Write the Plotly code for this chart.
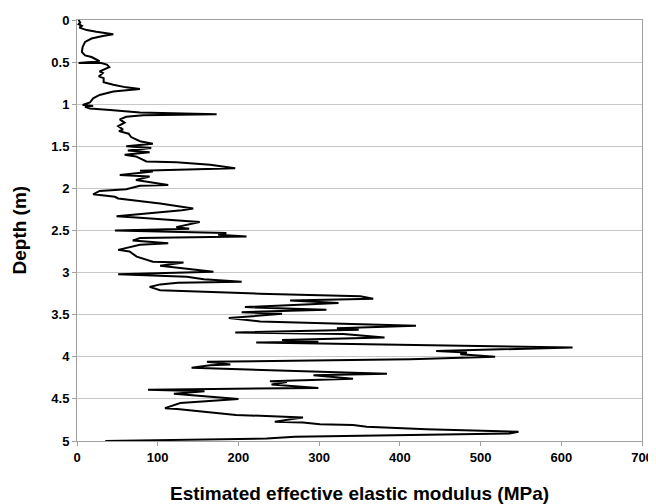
import plotly.graph_objects as go

# Digitized profile: estimated effective elastic modulus (MPa) vs depth (m)
depth_m = [
    0.00, 0.03, 0.05, 0.07, 0.09, 0.12, 0.14, 0.17, 0.19, 0.22, 0.26, 0.32, 0.38, 0.42, 0.44,
    0.47, 0.49, 0.51, 0.51, 0.53, 0.56, 0.61, 0.63, 0.67, 0.69, 0.74, 0.77, 0.80, 0.82, 0.85,
    0.89, 0.93, 0.98, 1.01, 1.02, 1.03, 1.05, 1.07, 1.10, 1.12, 1.13, 1.15, 1.18,
    1.22, 1.26, 1.30, 1.32, 1.35, 1.39, 1.44, 1.47, 1.50, 1.52, 1.55, 1.57, 1.60, 1.62, 1.68,
    1.69, 1.72, 1.76, 1.79, 1.80, 1.84, 1.86, 1.90, 1.96, 1.97, 2.01, 2.03, 2.07,
    2.10, 2.12, 2.18, 2.20, 2.24, 2.26, 2.33, 2.35, 2.40, 2.46, 2.48, 2.50, 2.53, 2.55, 2.57,
    2.59, 2.62, 2.65, 2.67, 2.73, 2.75, 2.81, 2.87, 2.88, 2.92, 2.99, 3.02, 3.05, 3.08, 3.11,
    3.12, 3.14, 3.17, 3.21,
    3.25, 3.28, 3.31, 3.33, 3.36, 3.41, 3.44, 3.47, 3.49, 3.54, 3.58, 3.63, 3.66, 3.68, 3.71,
    3.73, 3.77, 3.80, 3.82, 3.83, 3.86, 3.89, 3.93, 3.95, 3.97, 4.00,
    4.03, 4.06, 4.09, 4.10, 4.13, 4.20, 4.22, 4.26, 4.29, 4.30, 4.33, 4.37, 4.39, 4.41, 4.44,
    4.49, 4.50, 4.55, 4.61, 4.62, 4.68, 4.69, 4.72, 4.77, 4.78, 4.80, 4.81, 4.83, 4.86, 4.89,
    4.91, 4.93, 4.94, 4.95, 4.97, 5.00,
]
modulus_mpa = [
    2, 4, 2, 6, 3, 12, 24, 45, 32, 18, 10, 7, 6, 10, 18,
    24, 28, 2, 30, 37, 40, 28, 32, 27, 33, 33, 45, 61, 78, 45,
    28, 20, 16, 7, 20, 10, 16, 41, 78, 173, 82, 61, 53,
    59, 51, 57, 52, 64, 67, 78, 94, 61, 92, 63, 90, 59, 73, 86,
    123, 165, 196, 78, 94, 53, 90, 73, 113, 78, 61, 28, 20,
    47, 51, 103, 119, 144, 130, 49, 78, 152, 123, 139, 47, 185, 175, 210,
    78, 69, 113, 78, 51, 65, 74, 94, 132, 103, 169, 51, 136, 157, 204,
    125, 103, 90, 103,
    226, 351, 367, 264, 324, 208, 309, 204, 254, 188, 227, 420, 322, 349, 196,
    330, 381, 254, 299, 222, 400, 614, 445, 483, 475, 518,
    413, 161, 190, 165, 142, 384, 293, 342, 239, 260, 241, 299, 88, 158, 120,
    186, 200, 128, 109, 124, 187, 197, 280, 245, 280, 301, 342, 359, 433, 547,
    536, 400, 301, 270, 235, 35,
]

x_ticks = [0, 100, 200, 300, 400, 500, 600, 700]
y_ticks = [0, 0.5, 1, 1.5, 2, 2.5, 3, 3.5, 4, 4.5, 5]
y_tick_labels = ["0", "0.5", "1", "1.5", "2", "2.5", "3", "3.5", "4", "4.5", "5"]

x_title = "Estimated effective elastic modulus (MPa)"
y_title = "Depth (m)"

FONT = "Liberation Sans, Arial, sans-serif"
# The page body has an 8px default margin, so the figure is sized to fill
# the remaining 648x496 area of the 656x504 window.
W, H = 648, 496
ML, MR, MT, MB = 69, 14, 12, 63

fig = go.Figure()
fig.add_trace(go.Scatter(
    x=modulus_mpa, y=depth_m, mode="lines",
    line=dict(color="black", width=2),
    showlegend=False, hoverinfo="skip",
))

fig.update_layout(
    width=W, height=H,
    margin=dict(l=ML, r=MR, t=MT, b=MB, autoexpand=False),
    paper_bgcolor="white", plot_bgcolor="white",
    font=dict(family=FONT, color="black"),
)

fig.update_xaxes(
    range=[0, 700], tickvals=x_ticks, ticktext=[str(v) for v in x_ticks],
    showgrid=False, zeroline=False, automargin=False,
    showline=True, linecolor="#a0a0a0", linewidth=1, mirror=True,
    ticks="outside", ticklen=4, tickcolor="#a0a0a0",
    tickfont=dict(family=FONT, size=13, color="black", weight="bold"),
)
fig.update_yaxes(
    range=[5, 0], tickvals=y_ticks, ticktext=y_tick_labels,
    showgrid=True, gridcolor="#c8c8c8", gridwidth=1, zeroline=False, automargin=False,
    showline=True, linecolor="#a0a0a0", linewidth=1, mirror=True,
    ticks="outside", ticklen=4, tickcolor="#a0a0a0",
    tickfont=dict(family=FONT, size=13, color="black", weight="bold"),
)

pw = W - ML - MR
ph = H - MT - MB
fig.add_annotation(
    text=x_title, showarrow=False, xref="paper", yref="paper",
    x=0.5, y=-(485 - (H - MB)) / ph, xanchor="center", yanchor="middle",
    font=dict(family=FONT, size=19, color="black", weight="bold"),
)
fig.add_annotation(
    text=y_title, showarrow=False, xref="paper", yref="paper", textangle=-90,
    x=-(ML - 11) / pw, y=0.5, xanchor="center", yanchor="middle",
    font=dict(family=FONT, size=19, color="black", weight="bold"),
)

fig.write_html("out.html")
